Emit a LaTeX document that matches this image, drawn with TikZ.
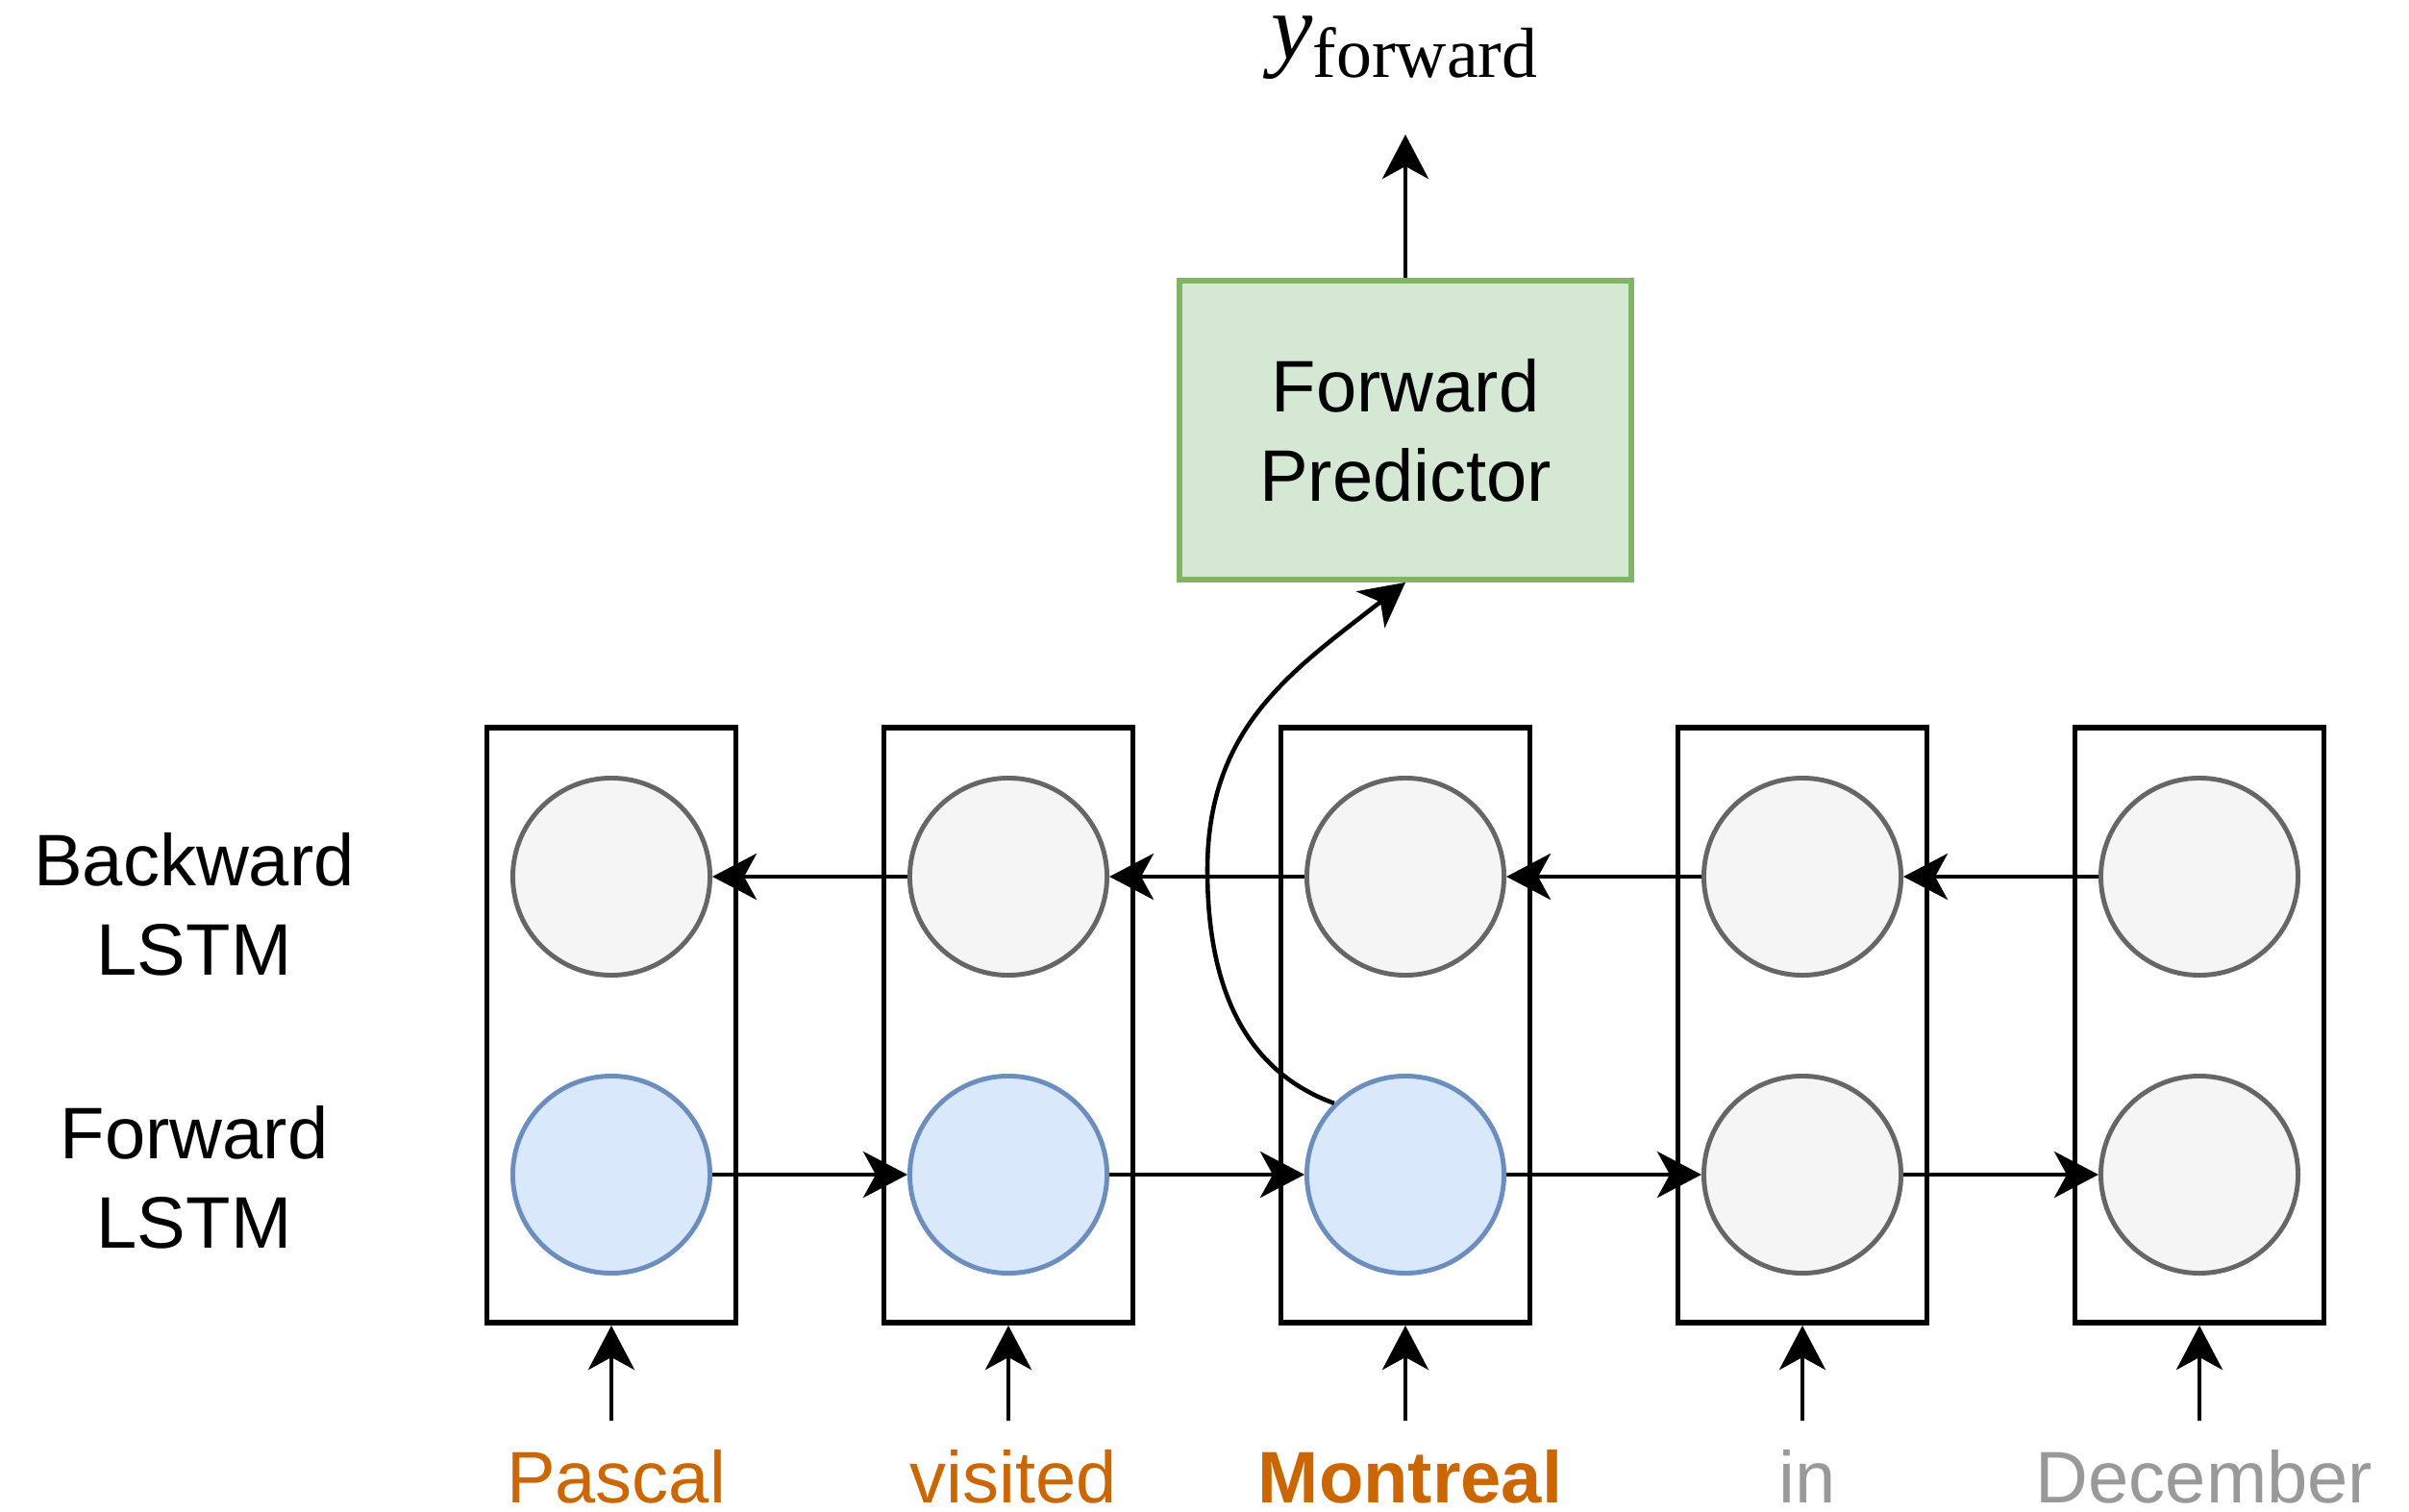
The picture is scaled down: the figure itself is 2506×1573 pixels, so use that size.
\documentclass[tikz,border=0pt]{standalone}
\usepackage{fontspec}
\setmainfont{Liberation Sans}
\newfontfamily\timesfam{Liberation Serif}
\usetikzlibrary{arrows.meta}

\definecolor{cellfill}{HTML}{F5F5F5}
\definecolor{celldraw}{HTML}{666666}
\definecolor{fwfill}{HTML}{DAE8FC}
\definecolor{fwdraw}{HTML}{6C8EBF}
\definecolor{predfill}{HTML}{D5E8D4}
\definecolor{preddraw}{HTML}{82B366}
\definecolor{wordorange}{HTML}{CC6600}
\definecolor{wordgray}{HTML}{999999}

\begin{document}
\begin{tikzpicture}[
  x=0.01cm, y=-0.01cm,
  lstmcol/.style={draw=black, line width=1.6pt, minimum width=2.59cm,
    minimum height=6.19cm, inner sep=0pt},
  bwcell/.style={circle, draw=celldraw, fill=cellfill, line width=1.4pt,
    minimum size=2.05cm, inner sep=0pt},
  fwcell/.style={circle, draw=fwdraw, fill=fwfill, line width=1.4pt,
    minimum size=2.05cm, inner sep=0pt},
  predbox/.style={draw=preddraw, fill=predfill, line width=1.6pt,
    minimum width=4.7cm, minimum height=3.11cm, align=center,
    font=\fontsize{21.6}{26.4}\selectfont},
  sidelabel/.style={align=center, inner sep=0pt,
    font=\fontsize{21.6}{26.6}\selectfont},
  word/.style={anchor=base, inner sep=0pt,
    text height=0.55cm, text depth=0.02cm,
    font=\fontsize{21.6}{26}\selectfont},
  arr/.style={-{Stealth[length=0.46cm, width=0.48cm, inset=0.13cm]},
    line width=1.3pt, draw=black},
]
\useasboundingbox (0,0) rectangle (2506,1573);

% unrolled columns, one per token
\foreach \i/\x in {1/636, 2/1049, 3/1462, 4/1875, 5/2288}
  \node[lstmcol] (c\i) at (\x,1066.5) {};

% backward states (top row)
\foreach \i/\x in {1/636, 2/1049, 3/1462, 4/1875, 5/2288}
  \node[bwcell] (b\i) at (\x,912) {};

% forward states (bottom row)
\node[fwcell] (f1) at (636,1222) {};
\node[fwcell] (f2) at (1049,1222) {};
\node[fwcell] (f3) at (1462,1222) {};
\node[bwcell] (f4) at (1875,1222) {};
\node[bwcell] (f5) at (2288,1222) {};

% row labels
\node[sidelabel] (lbw) at (202,941) {Backward\\LSTM};
\node[sidelabel] (lfw) at (202,1225) {Forward\\LSTM};

% predictor and its output
\node[predbox] (fp) at (1462,447.5) {Forward\\Predictor};
\node[anchor=base, inner sep=0pt, text height=0.42cm, text depth=0.2cm] (yout) at (1461,62)
  {{\timesfam\fontsize{27.7}{30}\selectfont\itshape y}\raisebox{-0.18cm}{\timesfam\fontsize{21}{24}\selectfont forward}};
\coordinate (ytip) at (1462,140);
\draw[arr] (fp.north) -- (ytip);

% input tokens
\node[word, text=wordorange] (w1) at (641,1563) {Pascal};
\node[word, text=wordorange] (w2) at (1054,1563) {visited};
\node[word, text=wordorange, font=\fontsize{21.6}{26}\selectfont\bfseries] (w3) at (1467,1563) {Montreal};
\node[word, text=wordgray] (w4) at (1880,1563) {in};
\node[word, text=wordgray] (w5) at (2293,1563) {December};

% token inputs enter each column from below
\foreach \i/\x in {1/636, 2/1049, 3/1462, 4/1875, 5/2288} {
  \coordinate (in\i) at (\x,1478);
  \draw[arr] (in\i) -- (c\i.south);
}

% recurrent connections
\foreach \i/\j in {1/2, 2/3, 3/4, 4/5} {
  \draw[arr] (f\i.east) -- (f\j.west);
  \draw[arr] (b\j.west) -- (b\i.east);
}

% forward state of the current token feeds the predictor
\coordinate (bend) at (1256,905);
\draw[arr] (f3.135) to[out=160, in=-90] (bend)
  to[out=90, in=-142, looseness=1.05] (fp.south);
\end{tikzpicture}
\end{document}
